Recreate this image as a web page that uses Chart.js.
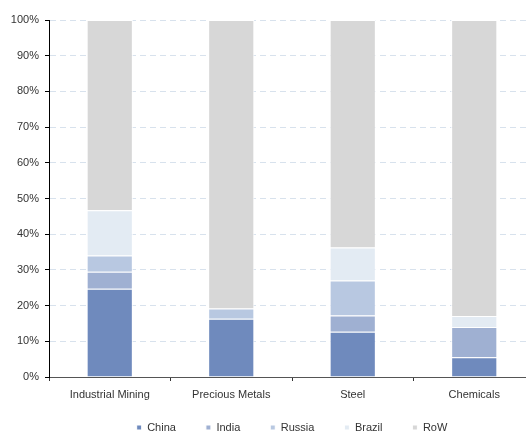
<!DOCTYPE html>
<html>
<head>
<meta charset="utf-8">
<script src="https://cdn.jsdelivr.net/npm/chart.js@4.4.1/dist/chart.umd.min.js"></script>
<style>
    html, body { margin: 0; padding: 0; background: #fff; overflow: hidden; }
    #wrap { position: absolute; left: 0; top: 0; width: 540px; height: 454px; }
</style>
</head>
<body>
<div id="wrap"><canvas id="shareChart"></canvas></div>
<script>
    // Share of demand by region, % of total
    const categories = ['Industrial Mining', 'Precious Metals', 'Steel', 'Chemicals'];
    const china = [24.7, 16.3, 12.7, 5.5];
    const india = [4.8, 0, 4.5, 8.5];
    const russia = [4.5, 2.9, 9.8, 0];
    const brazil = [12.7, 0, 9.3, 3.1];
    const row = [53.3, 80.8, 63.7, 82.9];
    const yTicks = [0, 10, 20, 30, 40, 50, 60, 70, 80, 90, 100];

    const seriesColors = {
        China: '#6f8abd',
        India: '#9fb0d2',
        Russia: '#b8c8e1',
        Brazil: '#e3ebf3',
        RoW: '#d7d7d7'
    };

    function makeSet(label, data) {
        return {
            label: label,
            data: data,
            backgroundColor: seriesColors[label],
            borderColor: '#ffffff',
            borderWidth: 1,
            barPercentage: 0.38,
            categoryPercentage: 1
        };
    }

    // legend padding also pads it vertically, pull it up a bit
    const legendNudge = {
        id: 'legendNudge',
        afterLayout(chart) {
            const lg = chart.legend;
            if (!lg) return;
            lg.top -= 11;
            lg.bottom -= 11;
        }
    };

    const textColor = '#333333';
    const font = { family: 'Liberation Sans, Arial, sans-serif', size: 11 };

    new Chart(document.getElementById('shareChart'), {
        type: 'bar',
        data: {
            labels: categories,
            datasets: [
                makeSet('China', china),
                makeSet('India', india),
                makeSet('Russia', russia),
                makeSet('Brazil', brazil),
                makeSet('RoW', row)
            ]
        },
        plugins: [legendNudge],
        options: {
            responsive: true,
            maintainAspectRatio: false,
            animation: false,
            layout: { padding: { top: 20, left: 0, right: 5, bottom: 0 } },
            plugins: {
                tooltip: { enabled: false },
                legend: {
                    position: 'bottom',
                    fullSize: false,
                    labels: {
                        color: textColor,
                        font: font,
                        boxWidth: 5,
                        boxHeight: 5,
                        padding: 30
                    }
                }
            },
            scales: {
                x: {
                    stacked: true,
                    border: { color: '#555555', width: 1 },
                    grid: {
                        drawOnChartArea: false,
                        drawTicks: true,
                        tickLength: 4,
                        tickColor: '#333333'
                    },
                    ticks: { color: textColor, font: font, padding: 7 },
                    afterFit: function (scale) { scale.height = 26; }
                },
                y: {
                    stacked: true,
                    min: 0,
                    max: 100,
                    afterBuildTicks: function (scale) {
                        scale.ticks = yTicks.map(v => ({ value: v }));
                    },
                    border: { color: '#000000', width: 1, dash: [6, 4] },
                    grid: {
                        color: '#d8e2ed',
                        tickLength: 4,
                        tickColor: '#000000',
                        tickBorderDash: []
                    },
                    ticks: {
                        color: textColor,
                        font: font,
                        padding: 6,
                        callback: v => v + '%'
                    },
                    afterFit: function (scale) { scale.width = 49; }
                }
            }
        }
    });
</script>
</body>
</html>
